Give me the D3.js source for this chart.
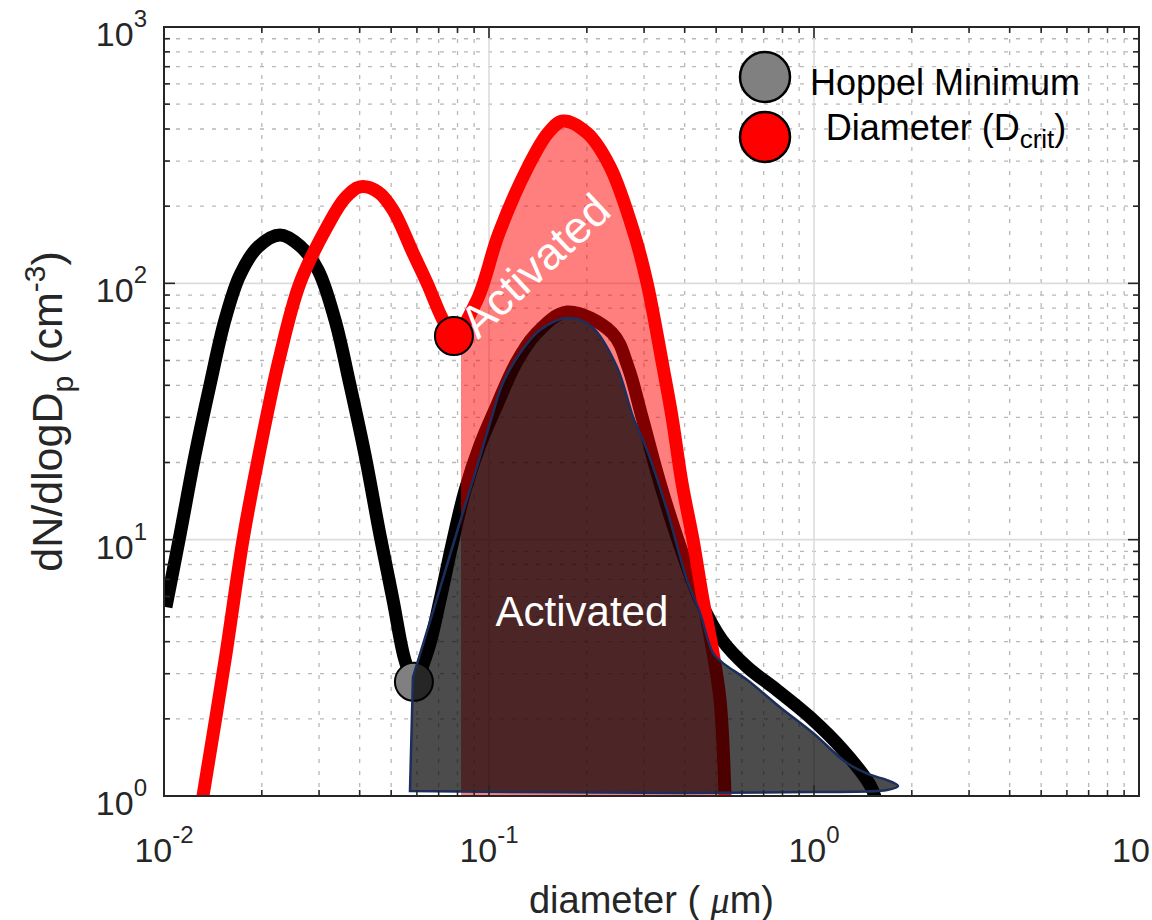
<!DOCTYPE html>
<html>
<head>
<meta charset="utf-8">
<script src="https://cdn.jsdelivr.net/npm/d3@7"></script>
<style>
  body { margin: 0; background: #fff; }
  svg { display: block; }
  text { font-family: "Liberation Sans", Arial, Helvetica, sans-serif; }
</style>
</head>
<body>
<div id="chart"></div>
<script>
// diameters in um, concentrations dN/dlogDp in cm^-3
var blackD = [0.01014, 0.0112, 0.01246, 0.01385, 0.0154, 0.01713, 0.01946, 0.02274, 0.02621, 0.02977,
              0.03359, 0.03736, 0.04155, 0.04619, 0.05066, 0.05513, 0.05875, 0.0649, 0.0707, 0.0769,
              0.0844, 0.0938, 0.1058, 0.1202, 0.1385, 0.1738, 0.239, 0.2678, 0.2957, 0.336,
              0.3815, 0.4459, 0.521, 0.622, 0.769, 0.972, 1.228, 1.487, 1.552];
var blackN = [5.46, 10.43, 21.4, 40.1, 71.9, 107.8, 138.7, 154.5, 140, 112.8,
              71.9, 40.1, 21.4, 10.43, 5.82, 3.39, 2.79, 3.71, 5.82, 9.54,
              15.6, 23.4, 33.5, 48.0, 62.9, 77.3, 64.1, 47.2, 30.1, 16.6,
              9.97, 5.82, 4.06, 3.19, 2.59, 2.03, 1.51, 1.104, 0.965];

var redD = [0.01318, 0.01541, 0.0175, 0.01946, 0.02259, 0.02621, 0.03174, 0.03605, 0.0401, 0.04555,
            0.05066, 0.05836, 0.06446, 0.07221, 0.0780, 0.0919, 0.1073, 0.1318, 0.1519, 0.1689,
            0.2003, 0.2357, 0.2794, 0.3064, 0.3431, 0.3657, 0.3926, 0.4244, 0.4556, 0.4856,
            0.5139, 0.5324];
var redN = [1.0, 3.39, 9.97, 20.5, 50.3, 100.4, 166, 215, 238, 227.3,
            193.4, 131.4, 100.4, 71.9, 62.3, 86.1, 157, 284.6, 386, 430,
            386, 285, 157, 100.4, 47.2, 30.1, 16.6, 9.97, 5.82, 3.81,
            2.37, 1.0];

// outline of the grey "activated" area above the Hoppel minimum
var activeD = [0.05835, 0.0682, 0.0791, 0.0912, 0.1007, 0.1104, 0.1246, 0.1435, 0.175, 0.2075,
               0.2476, 0.2774, 0.3062, 0.3529, 0.4067, 0.4459, 0.489, 0.5248, 0.622, 0.786,
               0.993, 1.263, 1.487, 1.677, 1.814];
var activeN = [2.91, 5.56, 10.4, 18.7, 28.5, 40.9, 53.5, 65.8, 73.3, 67.6,
               47.2, 30.1, 22.4, 13.06, 6.96, 5.18, 3.61, 3.30, 2.84, 2.22,
               1.76, 1.345, 1.21, 1.154, 1.094];
var activeBaseD = [1.677, 0.993, 0.387, 0.05713];
var activeBaseN = [1.055, 1.036, 1.027, 1.046];

var fillStartD = 0.082;          // left edge of the red shaded area
var hoppelMin = [0.05875, 2.79];
var dCrit = [0.078, 62.3];

var xTicks = [0.01, 0.1, 1, 10];
var xTickExp = ["-2", "-1", "0", ""];
var yTicks = [1, 10, 100, 1000];
var yTickExp = ["0", "1", "2", "3"];
var minorMult = [2, 3, 4, 5, 6, 7, 8, 9];

var legendLabels = ["Hoppel Minimum", "Diameter (D", "crit", ")"];
var activatedText = "Activated";
var label1At = [0.1932, 4.61];   // horizontal label (baseline centre)
var label2At = [0.0925, 60.1];   // rotated label (baseline start)

function main() {
    var W = 1152, H = 920;
    var left = 164, right = 1139, top = 27, bottom = 796;

    var svg = d3.select("#chart").append("svg")
        .attr("width", W)
        .attr("height", H);

    var x = d3.scaleLog().domain([0.01, 10]).range([left, right]);
    var y = d3.scaleLog().domain([1, 1000]).range([bottom, top]);

    svg.append("clipPath").attr("id", "plot")
        .append("rect")
        .attr("x", left).attr("y", top)
        .attr("width", right - left).attr("height", bottom - top);

    // minor tick values
    var xMinor = [], yMinor = [];
    [0.01, 0.1, 1].forEach(function (dec) {
        minorMult.forEach(function (m) { xMinor.push(dec * m); });
    });
    [1, 10, 100].forEach(function (dec) {
        minorMult.forEach(function (m) { yMinor.push(dec * m); });
    });

    // grid
    var grid = svg.append("g");
    grid.selectAll(".vminor").data(xMinor).enter().append("line")
        .attr("x1", function (d) { return x(d); }).attr("x2", function (d) { return x(d); })
        .attr("y1", top).attr("y2", bottom)
        .attr("stroke", "#b8b8b8").attr("stroke-width", 1.3)
        .attr("stroke-dasharray", "4,8");
    grid.selectAll(".hminor").data(yMinor).enter().append("line")
        .attr("y1", function (d) { return y(d); }).attr("y2", function (d) { return y(d); })
        .attr("x1", left).attr("x2", right)
        .attr("stroke", "#b8b8b8").attr("stroke-width", 1.3)
        .attr("stroke-dasharray", "4,8");
    grid.selectAll(".vmajor").data(xTicks.slice(1, 3)).enter().append("line")
        .attr("x1", function (d) { return x(d); }).attr("x2", function (d) { return x(d); })
        .attr("y1", top).attr("y2", bottom)
        .attr("stroke", "#dcdcdc").attr("stroke-width", 1.6);
    grid.selectAll(".hmajor").data(yTicks.slice(1, 3)).enter().append("line")
        .attr("y1", function (d) { return y(d); }).attr("y2", function (d) { return y(d); })
        .attr("x1", left).attr("x2", right)
        .attr("stroke", "#dcdcdc").attr("stroke-width", 1.6);

    var plot = svg.append("g").attr("clip-path", "url(#plot)");

    var line = d3.line()
        .x(function (d) { return x(d[0]); })
        .y(function (d) { return y(d[1]); })
        .curve(d3.curveCatmullRom.alpha(0.5));

    var blackPts = blackD.map(function (d, i) { return [d, blackN[i]]; });
    var redPts = redD.map(function (d, i) { return [d, redN[i]]; });

    // size distributions
    plot.append("path").attr("d", line(blackPts))
        .attr("fill", "none").attr("stroke", "#000").attr("stroke-width", 13)
        .attr("stroke-linejoin", "round");
    plot.append("path").attr("d", line(redPts))
        .attr("fill", "none").attr("stroke", "#ff0000").attr("stroke-width", 13)
        .attr("stroke-linejoin", "round");

    // red shaded area from Dcrit upward (start interpolated in log space)
    var k = 0;
    while (redD[k + 1] < fillStartD) k++;
    var t = (Math.log(fillStartD) - Math.log(redD[k])) / (Math.log(redD[k + 1]) - Math.log(redD[k]));
    var nStart = Math.exp(Math.log(redN[k]) + t * (Math.log(redN[k + 1]) - Math.log(redN[k])));
    var fillPts = [[fillStartD, nStart]].concat(redPts.filter(function (p) { return p[0] > fillStartD; }));
    var area = d3.area()
        .x(function (d) { return x(d[0]); })
        .y0(y(1))
        .y1(function (d) { return y(d[1]); })
        .curve(d3.curveCatmullRom.alpha(0.5));
    plot.append("path").attr("d", area(fillPts))
        .attr("fill", "#ff0000").attr("fill-opacity", 0.5);

    // Hoppel minimum marker (under the grey area)
    plot.append("circle")
        .attr("cx", x(hoppelMin[0])).attr("cy", y(hoppelMin[1])).attr("r", 19)
        .attr("fill", "#808080").attr("stroke", "#000").attr("stroke-width", 2);

    // grey shaded area
    var activePts = activeD.map(function (d, i) { return [d, activeN[i]]; })
        .concat(activeBaseD.map(function (d, i) { return [d, activeBaseN[i]]; }));
    plot.append("path").attr("d", line(activePts) + "Z")
        .attr("fill", "#000").attr("fill-opacity", 0.7)
        .attr("stroke", "#1c2f5c").attr("stroke-width", 2.5);

    // Dcrit marker
    plot.append("circle")
        .attr("cx", x(dCrit[0])).attr("cy", y(dCrit[1])).attr("r", 19)
        .attr("fill", "#ff0000").attr("stroke", "#000").attr("stroke-width", 2);

    // annotations
    svg.append("text")
        .attr("x", x(label1At[0])).attr("y", y(label1At[1]))
        .attr("text-anchor", "middle").attr("font-size", 42).attr("fill", "#fff")
        .text(activatedText);
    svg.append("text")
        .attr("transform", "translate(" + x(label2At[0]) + "," + y(label2At[1]) + ") rotate(-43)")
        .attr("font-size", 45).attr("fill", "#fff")
        .text(activatedText);

    // axes box with inward ticks on all four sides
    var ax = svg.append("g").attr("stroke", "#262626").attr("stroke-width", 1.6);
    function xTick(vals, len) {
        vals.forEach(function (v) {
            ax.append("line").attr("x1", x(v)).attr("x2", x(v)).attr("y1", bottom).attr("y2", bottom - len);
            ax.append("line").attr("x1", x(v)).attr("x2", x(v)).attr("y1", top).attr("y2", top + len);
        });
    }
    function yTick(vals, len) {
        vals.forEach(function (v) {
            ax.append("line").attr("y1", y(v)).attr("y2", y(v)).attr("x1", left).attr("x2", left + len);
            ax.append("line").attr("y1", y(v)).attr("y2", y(v)).attr("x1", right).attr("x2", right - len);
        });
    }
    xTick(xMinor, 6); xTick(xTicks, 11);
    yTick(yMinor, 6); yTick(yTicks, 11);
    ax.append("rect")
        .attr("x", left).attr("y", top)
        .attr("width", right - left).attr("height", bottom - top)
        .attr("fill", "none").attr("stroke-width", 2);

    // tick labels
    xTicks.forEach(function (v, i) {
        var tx = svg.append("text")
            .attr("x", x(v) - (xTickExp[i] ? 0 : 8)).attr("y", bottom + 66)
            .attr("text-anchor", "middle").attr("font-size", 34).attr("fill", "#262626");
        tx.append("tspan").text("10");
        if (xTickExp[i]) tx.append("tspan").attr("dy", -19).attr("font-size", 24).text(xTickExp[i]);
    });
    yTicks.forEach(function (v, i) {
        var ty = svg.append("text")
            .attr("x", 147).attr("y", y(v) + 19)
            .attr("text-anchor", "end").attr("font-size", 34).attr("fill", "#262626");
        ty.append("tspan").text("10");
        ty.append("tspan").attr("dy", -19).attr("font-size", 24).text(yTickExp[i]);
    });

    // axis titles
    var xl = svg.append("text")
        .attr("x", (left + right) / 2).attr("y", 913)
        .attr("text-anchor", "middle").attr("font-size", 38).attr("fill", "#262626");
    xl.append("tspan").text("diameter ( ");
    xl.append("tspan").attr("font-family", "'Liberation Serif', serif").attr("font-style", "italic").text("\u03bc");
    xl.append("tspan").text("m)");

    var yl = svg.append("text")
        .attr("transform", "translate(62," + ((top + bottom) / 2) + ") rotate(-90)")
        .attr("text-anchor", "middle").attr("font-size", 43).attr("fill", "#262626");
    yl.append("tspan").text("dN/dlogD");
    yl.append("tspan").attr("dy", 11).attr("font-size", 30).text("p");
    yl.append("tspan").attr("dy", -11).text("\u00a0(cm");
    yl.append("tspan").attr("dy", -17).attr("font-size", 30).text("-3");
    yl.append("tspan").attr("dy", 17).text(")");

    // legend
    var lg = svg.append("g");
    lg.append("circle").attr("cx", 765).attr("cy", 77).attr("r", 25)
        .attr("fill", "#808080").attr("stroke", "#000").attr("stroke-width", 2.5);
    lg.append("circle").attr("cx", 765).attr("cy", 137).attr("r", 25)
        .attr("fill", "#ff0000").attr("stroke", "#000").attr("stroke-width", 2.5);
    lg.append("text").attr("x", 945).attr("y", 95)
        .attr("text-anchor", "middle").attr("font-size", 36).attr("fill", "#000")
        .text(legendLabels[0]);
    var l2 = lg.append("text").attr("x", 946).attr("y", 140)
        .attr("text-anchor", "middle").attr("font-size", 36).attr("fill", "#000");
    l2.append("tspan").text(legendLabels[1]);
    l2.append("tspan").attr("dy", 8).attr("font-size", 26).text(legendLabels[2]);
    l2.append("tspan").attr("dy", -8).text(legendLabels[3]);
}

window.addEventListener('load', main);
</script>
</body>
</html>
